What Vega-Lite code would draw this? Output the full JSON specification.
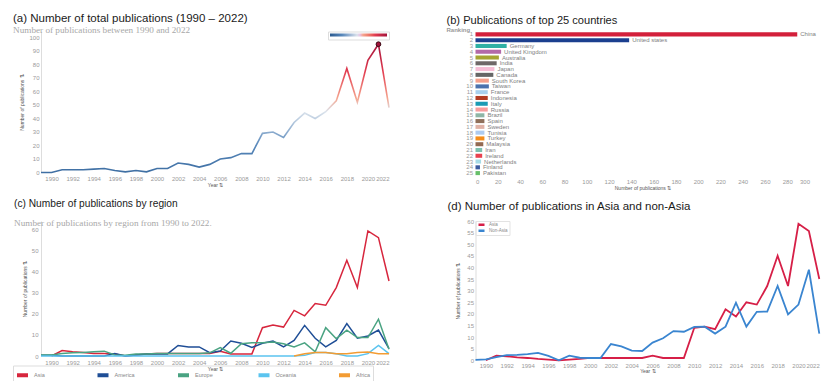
{
  "$schema": "https://vega.github.io/schema/vega-lite/v6.json",
  "background": "white",
  "padding": {"left": 12, "top": 12.5, "right": 0, "bottom": 0},
  "bounds": "flush",
  "columns": 2,
  "spacing": {"row": 44.5, "column": 86.5},
  "resolve": {"scale": {"x": "independent", "y": "independent", "color": "independent"}, "axis": {"x": "independent", "y": "independent"}, "legend": {"color": "independent"}},
  "datasets": {
    "total": [
      {"year": 1989, "n": 0}, {"year": 1990, "n": 0}, {"year": 1991, "n": 2}, {"year": 1992, "n": 2},
      {"year": 1993, "n": 2}, {"year": 1994, "n": 2.5}, {"year": 1995, "n": 3}, {"year": 1996, "n": 1.5},
      {"year": 1997, "n": 0.5}, {"year": 1998, "n": 1.5}, {"year": 1999, "n": 0.5}, {"year": 2000, "n": 3},
      {"year": 2001, "n": 3}, {"year": 2002, "n": 7}, {"year": 2003, "n": 6}, {"year": 2004, "n": 4},
      {"year": 2005, "n": 6}, {"year": 2006, "n": 10}, {"year": 2007, "n": 11}, {"year": 2008, "n": 14},
      {"year": 2009, "n": 14}, {"year": 2010, "n": 29}, {"year": 2011, "n": 30}, {"year": 2012, "n": 26},
      {"year": 2013, "n": 37}, {"year": 2014, "n": 44}, {"year": 2015, "n": 40}, {"year": 2016, "n": 45},
      {"year": 2017, "n": 53}, {"year": 2018, "n": 77}, {"year": 2019, "n": 52}, {"year": 2020, "n": 83},
      {"year": 2021, "n": 95}, {"year": 2022, "n": 48}
    ],
    "countries": [
      {"rank": 1, "country": "China", "n": 289},
      {"rank": 2, "country": "United states", "n": 138},
      {"rank": 3, "country": "Germany", "n": 28},
      {"rank": 4, "country": "United Kingdom", "n": 23},
      {"rank": 5, "country": "Australia", "n": 21},
      {"rank": 6, "country": "India", "n": 19},
      {"rank": 7, "country": "Japan", "n": 17},
      {"rank": 8, "country": "Canada", "n": 16},
      {"rank": 9, "country": "South Korea", "n": 12},
      {"rank": 10, "country": "Taiwan", "n": 12},
      {"rank": 11, "country": "France", "n": 11},
      {"rank": 12, "country": "Indonesia", "n": 11},
      {"rank": 13, "country": "Italy", "n": 11},
      {"rank": 14, "country": "Russia", "n": 11},
      {"rank": 15, "country": "Brazil", "n": 8},
      {"rank": 16, "country": "Spain", "n": 8},
      {"rank": 17, "country": "Sweden", "n": 8},
      {"rank": 18, "country": "Tunisia", "n": 8},
      {"rank": 19, "country": "Turkey", "n": 8},
      {"rank": 20, "country": "Malaysia", "n": 7},
      {"rank": 21, "country": "Iran", "n": 6},
      {"rank": 22, "country": "Ireland", "n": 6},
      {"rank": 23, "country": "Netherlands", "n": 5},
      {"rank": 24, "country": "Finland", "n": 4},
      {"rank": 25, "country": "Pakistan", "n": 4}
    ],
    "regions": [
      {"year": 1989, "Asia": null, "America": 0.3, "Europe": 0.5, "Oceania": 0, "Africa": null},
      {"year": 1990, "Asia": 0, "America": 0.3, "Europe": 0.5, "Oceania": 0, "Africa": null},
      {"year": 1991, "Asia": 2.6, "America": 0, "Europe": 1.2, "Oceania": 0, "Africa": null},
      {"year": 1992, "Asia": 2, "America": 0, "Europe": 1.5, "Oceania": 0, "Africa": null},
      {"year": 1993, "Asia": 1.7, "America": 0, "Europe": 1.7, "Oceania": 0, "Africa": null},
      {"year": 1994, "Asia": 1.2, "America": 0, "Europe": 2, "Oceania": 0, "Africa": null},
      {"year": 1995, "Asia": 1.2, "America": 0, "Europe": 2.3, "Oceania": 0, "Africa": null},
      {"year": 1996, "Asia": 0.9, "America": 1.2, "Europe": 0.5, "Oceania": 0, "Africa": null},
      {"year": 1997, "Asia": 0, "America": 0, "Europe": 0.3, "Oceania": 0, "Africa": null},
      {"year": 1998, "Asia": 0.5, "America": 0.5, "Europe": 0.9, "Oceania": 0, "Africa": null},
      {"year": 1999, "Asia": 0.9, "America": 1, "Europe": 1, "Oceania": 0, "Africa": null},
      {"year": 2000, "Asia": 1.2, "America": 1, "Europe": 1.2, "Oceania": 0, "Africa": null},
      {"year": 2001, "Asia": 1.2, "America": 1, "Europe": 1.2, "Oceania": 0, "Africa": null},
      {"year": 2002, "Asia": 1.2, "America": 5, "Europe": 1.2, "Oceania": 0, "Africa": null},
      {"year": 2003, "Asia": 1.2, "America": 4.3, "Europe": 1.2, "Oceania": 0, "Africa": null},
      {"year": 2004, "Asia": 1.2, "America": 4.3, "Europe": 1.2, "Oceania": 0, "Africa": null},
      {"year": 2005, "Asia": 1.2, "America": 1.6, "Europe": 1.5, "Oceania": 0, "Africa": null},
      {"year": 2006, "Asia": 2.2, "America": 2.4, "Europe": 4, "Oceania": 0, "Africa": null},
      {"year": 2007, "Asia": 1, "America": 7.1, "Europe": 1.3, "Oceania": 0, "Africa": null},
      {"year": 2008, "Asia": 1, "America": 6, "Europe": 5.8, "Oceania": 0, "Africa": null},
      {"year": 2009, "Asia": 1, "America": 4, "Europe": 6.3, "Oceania": 0, "Africa": null},
      {"year": 2010, "Asia": 13.4, "America": 6, "Europe": 6.3, "Oceania": 0, "Africa": null},
      {"year": 2011, "Asia": 14.7, "America": 7.1, "Europe": 6.6, "Oceania": 0, "Africa": null},
      {"year": 2012, "Asia": 13.7, "America": 4.3, "Europe": 5.8, "Oceania": 0, "Africa": null},
      {"year": 2013, "Asia": 21.6, "America": 7.4, "Europe": 4.3, "Oceania": 0, "Africa": 0},
      {"year": 2014, "Asia": 19, "America": 14.5, "Europe": 6.2, "Oceania": 0.3, "Africa": 1.1},
      {"year": 2015, "Asia": 24.8, "America": 8.4, "Europe": 2, "Oceania": 1.6, "Africa": 1.6},
      {"year": 2016, "Asia": 24, "America": 4.3, "Europe": 13.4, "Oceania": 1.6, "Africa": 1.6},
      {"year": 2017, "Asia": 32.4, "America": 7.4, "Europe": 8.2, "Oceania": 1.1, "Africa": 1.1},
      {"year": 2018, "Asia": 45.3, "America": 15.3, "Europe": 12.2, "Oceania": 0, "Africa": 1.1},
      {"year": 2019, "Asia": 32.4, "America": 8.4, "Europe": 8.7, "Oceania": 0, "Africa": 1.6},
      {"year": 2020, "Asia": 59.2, "America": 9.5, "Europe": 8.7, "Oceania": 1.1, "Africa": 1.9},
      {"year": 2021, "Asia": 56, "America": 12.3, "Europe": 17.4, "Oceania": 5, "Africa": 1.1},
      {"year": 2022, "Asia": 35.5, "America": 3.5, "Europe": 3.2, "Oceania": 1.1, "Africa": 1.1}
    ],
    "asia": [
      {"year": 1989, "Asia": null, "Non-Asia": 0.2},
      {"year": 1990, "Asia": 0, "Non-Asia": 0.4},
      {"year": 1991, "Asia": 2, "Non-Asia": 1.4},
      {"year": 1992, "Asia": 1.7, "Non-Asia": 2.2},
      {"year": 1993, "Asia": 1.3, "Non-Asia": 2.3},
      {"year": 1994, "Asia": 1, "Non-Asia": 2.7},
      {"year": 1995, "Asia": 0.6, "Non-Asia": 3.2},
      {"year": 1996, "Asia": 0.3, "Non-Asia": 1.9},
      {"year": 1997, "Asia": 0, "Non-Asia": 0},
      {"year": 1998, "Asia": 0.3, "Non-Asia": 2},
      {"year": 1999, "Asia": 0.6, "Non-Asia": 1.1},
      {"year": 2000, "Asia": 1, "Non-Asia": 1},
      {"year": 2001, "Asia": 1, "Non-Asia": 1},
      {"year": 2002, "Asia": 1, "Non-Asia": 7},
      {"year": 2003, "Asia": 1, "Non-Asia": 6},
      {"year": 2004, "Asia": 1, "Non-Asia": 4.2},
      {"year": 2005, "Asia": 1, "Non-Asia": 4},
      {"year": 2006, "Asia": 2, "Non-Asia": 7.6},
      {"year": 2007, "Asia": 1, "Non-Asia": 9.5},
      {"year": 2008, "Asia": 1, "Non-Asia": 12.6},
      {"year": 2009, "Asia": 1, "Non-Asia": 12.3},
      {"year": 2010, "Asia": 14, "Non-Asia": 14.4},
      {"year": 2011, "Asia": 14.5, "Non-Asia": 14.5},
      {"year": 2012, "Asia": 13.4, "Non-Asia": 11.5},
      {"year": 2013, "Asia": 22, "Non-Asia": 14.5},
      {"year": 2014, "Asia": 18.9, "Non-Asia": 24.8},
      {"year": 2015, "Asia": 25, "Non-Asia": 14.5},
      {"year": 2016, "Asia": 24, "Non-Asia": 20.9},
      {"year": 2017, "Asia": 32, "Non-Asia": 21},
      {"year": 2018, "Asia": 45, "Non-Asia": 32},
      {"year": 2019, "Asia": 32, "Non-Asia": 19.8},
      {"year": 2020, "Asia": 58.8, "Non-Asia": 24},
      {"year": 2021, "Asia": 55.7, "Non-Asia": 39},
      {"year": 2022, "Asia": 35, "Non-Asia": 11.5}
    ]
  },
  "concat": [
    {
      "width": 348,
      "height": 141,
      "title": {
        "text": "(a) Number of total publications (1990 – 2022)",
        "subtitle": "Number of publications between 1990 and 2022",
        "fontSize": 11.5,
        "dx": -28,
        "offset": -4,
        "subtitlePadding": 1
      },
      "data": {"name": "total"},
      "encoding": {
        "x": {
          "field": "year", "type": "quantitative",
          "scale": {"domain": [1989, 2022], "nice": false, "zero": false},
          "axis": {"values": [1990, 1992, 1994, 1996, 1998, 2000, 2002, 2004, 2006, 2008, 2010, 2012, 2014, 2016, 2018, 2020, 2022], "format": "d", "title": "Year ⇅", "labelPadding": 3, "titlePadding": 1}
        },
        "y": {
          "field": "n", "type": "quantitative",
          "scale": {"domain": [0, 104.4], "nice": false},
          "axis": {"values": [0, 10, 20, 30, 40, 50, 60, 70, 80, 90, 100], "title": "Number of publications ⇅", "domain": true, "domainColor": "#dddddd", "labelPadding": 2, "titlePadding": 4}
        }
      },
      "layer": [
        {
          "mark": {
            "type": "line",
            "strokeWidth": 1.6,
            "stroke": {
              "gradient": "linear", "x1": 0, "y1": 1, "x2": 0, "y2": 0,
              "stops": [
                {"offset": 0, "color": "#3f6fa3"},
                {"offset": 0.21, "color": "#5787ba"},
                {"offset": 0.474, "color": "#dbe3ec"},
                {"offset": 0.579, "color": "#f5a58f"},
                {"offset": 0.789, "color": "#e23c50"},
                {"offset": 1, "color": "#a3123a"}
              ]
            }
          }
        },
        {
          "transform": [{"filter": "datum.year == 2021"}],
          "mark": {"type": "circle", "size": 22, "opacity": 1, "stroke": "#3a0a14", "strokeWidth": 1},
          "encoding": {
            "color": {
              "field": "n", "type": "quantitative",
              "scale": {"domain": [0, 20, 45, 55, 75, 95], "range": ["#2b5a8f", "#5787ba", "#dbe3ec", "#f5a58f", "#e23c50", "#a3123a"]},
              "legend": {"orient": "top-right", "direction": "horizontal", "title": null, "labelOpacity": 0, "labelFontSize": 1, "labelOffset": 0, "gradientLength": 57, "gradientThickness": 3, "strokeColor": "#dddddd", "padding": 2, "offset": 0}
            }
          }
        }
      ]
    },
    {
      "width": 334,
      "height": 144.5,
      "title": {
        "text": "(b) Publications of top 25 countries",
        "subtitle": "Ranking",
        "fontSize": 11.1,
        "dx": -29,
        "offset": -2,
        "subtitlePadding": 1,
        "subtitleFont": "Liberation Sans",
        "subtitleFontSize": 6,
        "subtitleFontWeight": "bold",
        "subtitleColor": "#9a9a9a"
      },
      "data": {"name": "countries"},
      "encoding": {
        "y": {
          "field": "rank", "type": "ordinal",
          "scale": {"paddingInner": 0.3, "paddingOuter": 0.15},
          "axis": {"title": null, "labelPadding": 3}
        },
        "x": {
          "field": "n", "type": "quantitative",
          "scale": {"domain": [0, 300], "nice": false},
          "axis": {"values": [0, 20, 40, 60, 80, 100, 120, 140, 160, 180, 200, 220, 240, 260, 280, 300], "title": "Number of publications ⇅", "labelPadding": 2, "titlePadding": 1}
        }
      },
      "layer": [
        {
          "mark": {"type": "bar"},
          "encoding": {
            "color": {
              "field": "country", "type": "nominal",
              "scale": {
                "domain": ["China", "United states", "Germany", "United Kingdom", "Australia", "India", "Japan", "Canada", "South Korea", "Taiwan", "France", "Indonesia", "Italy", "Russia", "Brazil", "Spain", "Sweden", "Tunisia", "Turkey", "Malaysia", "Iran", "Ireland", "Netherlands", "Finland", "Pakistan"],
                "range": ["#d3203b", "#1b3f8f", "#2fb0a4", "#b36aa8", "#a5a533", "#6f6868", "#f7bdd6", "#666666", "#f5a08c", "#4b72ad", "#a8d0ee", "#b23c24", "#1a9bb4", "#f79d9d", "#8eb6a6", "#8f6f5a", "#e0b2a6", "#aecbf0", "#f58d1b", "#936a52", "#7cc0ae", "#e8424f", "#a6dbe6", "#3b5b9f", "#67bf6a"]
              },
              "legend": null
            }
          }
        },
        {
          "mark": {"type": "text", "align": "left", "baseline": "middle", "dx": 3, "font": "Liberation Sans", "fontSize": 6, "color": "#808080"},
          "encoding": {"text": {"field": "country", "type": "nominal"}}
        }
      ]
    },
    {
      "width": 348,
      "height": 135,
      "title": {
        "text": "(c) Number of publications by region",
        "subtitle": "Number of publications by region from 1990 to 2022.",
        "fontSize": 10.2,
        "dx": -27,
        "offset": -7.5,
        "subtitlePadding": 10
      },
      "data": {"name": "regions"},
      "transform": [{"fold": ["Asia", "America", "Europe", "Oceania", "Africa"], "as": ["region", "n"]}],
      "mark": {"type": "line", "strokeWidth": 1.5},
      "encoding": {
        "x": {
          "field": "year", "type": "quantitative",
          "scale": {"domain": [1989, 2022], "nice": false, "zero": false},
          "axis": {"values": [1990, 1992, 1994, 1996, 1998, 2000, 2002, 2004, 2006, 2008, 2010, 2012, 2014, 2016, 2018, 2020, 2022], "format": "d", "title": "Year ⇅", "labelPadding": 3, "titlePadding": 1}
        },
        "y": {
          "field": "n", "type": "quantitative",
          "scale": {"domain": [0, 63.9], "nice": false},
          "axis": {"values": [0, 10, 20, 30, 40, 50, 60], "title": "Number of publications ⇅", "domain": true, "domainColor": "#dddddd", "labelPadding": 3, "titlePadding": 4}
        },
        "color": {
          "field": "region", "type": "nominal",
          "scale": {"domain": ["Asia", "America", "Europe", "Oceania", "Africa"], "range": ["#d7263d", "#1f4e96", "#4aa382", "#5bc4ef", "#f39c33"]},
          "legend": {"orient": "none", "legendX": -28, "legendY": 144.5, "direction": "horizontal", "columns": 5, "gridAlign": "all", "columnPadding": 34.5, "title": null, "symbolType": "stroke", "symbolSize": 121, "symbolStrokeWidth": 4, "labelFontSize": 5.5, "labelColor": "#888888", "labelOffset": 4, "strokeColor": "#dddddd", "padding": 2}
        }
      }
    },
    {
      "width": 343.8,
      "height": 139.3,
      "title": {
        "text": "(d) Number of publications in Asia and non-Asia",
        "fontSize": 11.5,
        "dx": -28,
        "offset": 5.5
      },
      "data": {"name": "asia"},
      "transform": [{"fold": ["Asia", "Non-Asia"], "as": ["group", "n"]}],
      "mark": {"type": "line", "strokeWidth": 1.8},
      "encoding": {
        "x": {
          "field": "year", "type": "quantitative",
          "scale": {"domain": [1989, 2022], "nice": false, "zero": false},
          "axis": {"values": [1990, 1992, 1994, 1996, 1998, 2000, 2002, 2004, 2006, 2008, 2010, 2012, 2014, 2016, 2018, 2020, 2022], "format": "d", "title": "Year ⇅", "labelPadding": 2, "titlePadding": 0}
        },
        "y": {
          "field": "n", "type": "quantitative",
          "scale": {"domain": [0, 60], "nice": false},
          "axis": {"values": [0, 5, 10, 15, 20, 25, 30, 35, 40, 45, 50, 55, 60], "title": "Number of publications ⇅", "domain": true, "domainColor": "#dddddd", "labelPadding": 2, "titlePadding": 6}
        },
        "color": {
          "field": "group", "type": "nominal",
          "scale": {"domain": ["Asia", "Non-Asia"], "range": ["#d61f47", "#3a85d0"]},
          "legend": {"orient": "top-left", "title": null, "symbolType": "stroke", "symbolSize": 36, "symbolStrokeWidth": 2.5, "labelFontSize": 4.5, "labelColor": "#888888", "labelOffset": 3, "rowPadding": 0, "clipHeight": 4.6, "labelLimit": 60, "strokeColor": "#e3e3e3", "padding": 1.5, "offset": 0}
        }
      }
    }
  ],
  "config": {
    "view": {"stroke": null},
    "font": "Liberation Sans",
    "axis": {
      "labelFont": "Liberation Sans",
      "labelFontSize": 6,
      "labelColor": "#9a9a9a",
      "titleFont": "Liberation Sans",
      "titleFontSize": 5,
      "titleColor": "#555555",
      "titleFontWeight": "normal",
      "ticks": false,
      "grid": false,
      "domain": false
    },
    "title": {
      "font": "Liberation Sans",
      "fontSize": 12.5,
      "fontWeight": "normal",
      "color": "#1a1a1a",
      "anchor": "start",
      "frame": "group",
      "subtitleFont": "Liberation Serif",
      "subtitleFontSize": 9.2,
      "subtitleColor": "#a8a8a8"
    }
  }
}
